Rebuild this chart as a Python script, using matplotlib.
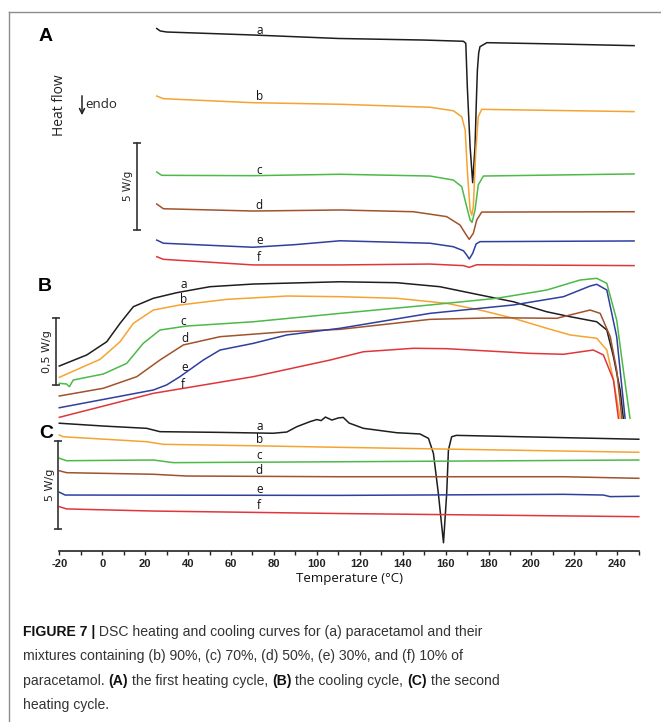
import matplotlib
matplotlib.use("Agg")
import matplotlib.pyplot as plt
from matplotlib.lines import Line2D
from matplotlib import font_manager

plt.rcParams["axes.unicode_minus"] = False

# DSC curves, (temperature degC, heat flow W/g incl. stacking offset)
# (A) first heating
heat1_a = [(25.4, 13.80), (27, 13.66), (30, 13.60), (70, 13.43), (110, 13.23), (150, 13.14),
           (168.3, 13.07), (169.4, 12.95), (170.1, 10.47), (171.4, 7.05), (172.6, 4.99),
           (173.7, 7.05), (174.3, 9.6), (174.8, 11.43), (175.4, 12.4), (176.0, 12.76),
           (179.2, 12.99), (210, 12.92), (247.8, 12.82)]
heat1_b = [(25.4, 9.94), (28.5, 9.79), (70.3, 9.56), (110.8, 9.47), (152.7, 9.30), (163.6, 9.10),
           (167.5, 8.76), (169.1, 8.00), (170.1, 5.71), (171.4, 3.43), (172.2, 3.14), (172.9, 3.62),
           (174.0, 6.67), (175.2, 8.76), (176.8, 9.18), (247.8, 9.05)]
heat1_c = [(25.4, 5.60), (27.7, 5.41), (70.3, 5.39), (110.8, 5.47), (152.7, 5.37), (163.6, 5.14),
           (167.5, 4.76), (169.8, 3.62), (171.4, 2.86), (172.3, 2.72), (173.7, 3.43), (175.2, 4.86),
           (177.6, 5.37), (247.8, 5.49)]
heat1_d = [(25.4, 3.77), (28.5, 3.50), (70.3, 3.37), (110.8, 3.43), (145, 3.33), (160.5, 3.05),
           (166.7, 2.57), (169.1, 2.10), (171.0, 1.75), (172.9, 2.10), (174.5, 2.86), (176.8, 3.31),
           (247.8, 3.33)]
heat1_e = [(25.4, 1.71), (28.5, 1.53), (70.3, 1.30), (90, 1.45), (110.8, 1.67), (152.7, 1.53),
           (163.6, 1.33), (168.3, 1.10), (169.8, 0.86), (171.0, 0.63), (172.6, 0.95), (174.2, 1.49),
           (176.0, 1.62), (247.8, 1.66)]
heat1_f = [(25.4, 0.76), (28.5, 0.61), (70.3, 0.29), (110.8, 0.29), (152.7, 0.34), (168.3, 0.25),
           (171.0, 0.15), (174.5, 0.30), (247.8, 0.25)]

# (B) cooling
cool_a = [(-20, 0.405), (-7.2, 0.488), (2.1, 0.587), (8.3, 0.725), (14.5, 0.850), (23.8, 0.913),
          (34.7, 0.955), (50.2, 1.000), (70.4, 1.020), (110.8, 1.037), (137.2, 1.030), (157.3, 1.000),
          (176.0, 0.938), (191.6, 0.887), (207.1, 0.812), (218.0, 0.775), (230.4, 0.737),
          (235.1, 0.675), (238.2, 0.475), (241.3, 0.225), (242.8, 0.013)]
cool_b = [(-20, 0.320), (-1.0, 0.455), (8.3, 0.587), (14.5, 0.725), (23.8, 0.825), (36.2, 0.863),
          (58.0, 0.905), (86.0, 0.930), (110.8, 0.925), (137.2, 0.913), (160.5, 0.875),
          (176.0, 0.825), (191.6, 0.763), (207.1, 0.688), (218.0, 0.638), (230.4, 0.613),
          (235.1, 0.525), (238.2, 0.300), (241.3, 0.013)]
cool_c = [(-20, 0.275), (-16.6, 0.270), (-15.3, 0.250), (-13.5, 0.300), (0.5, 0.345), (11.4, 0.425),
          (19.1, 0.575), (26.9, 0.675), (39.4, 0.705), (70.4, 0.737), (110.8, 0.800), (152.7, 0.863),
          (183.8, 0.913), (207.1, 0.975), (222.6, 1.050), (230.4, 1.063), (235.1, 1.025),
          (239.7, 0.750), (242.8, 0.375), (245.9, 0.013)]
cool_d = [(-20, 0.180), (0.5, 0.238), (16.1, 0.325), (26.9, 0.450), (37.8, 0.563), (54.9, 0.625),
          (86.0, 0.663), (110.8, 0.680), (152.7, 0.755), (183.8, 0.767), (211.8, 0.763),
          (218.0, 0.788), (227.3, 0.825), (232.0, 0.800), (236.7, 0.625), (239.7, 0.375),
          (242.1, 0.013)]
cool_e = [(-20, 0.092), (23.8, 0.225), (30.0, 0.263), (36.2, 0.325), (47.1, 0.450), (54.9, 0.525),
          (70.4, 0.575), (86.0, 0.638), (110.8, 0.688), (152.7, 0.800), (191.6, 0.863),
          (214.9, 0.925), (227.3, 1.005), (230.4, 1.018), (235.1, 0.975), (239.7, 0.625),
          (243.6, 0.013)]
cool_f = [(-20, 0.020), (23.8, 0.200), (70.4, 0.325), (106.2, 0.450), (121.7, 0.512), (145.0, 0.538),
          (160.5, 0.535), (199.3, 0.500), (214.9, 0.493), (228.8, 0.525), (233.5, 0.488),
          (238.2, 0.300), (240.5, 0.013)]

# (C) second heating
heat2_a = [(-20, 7.26), (0.5, 7.10), (20.7, 6.97), (26.9, 6.78), (54.9, 6.74), (79.7, 6.69),
           (86.0, 6.76), (90.6, 7.06), (96.8, 7.35), (100, 7.47), (102, 7.41), (104, 7.61),
           (107, 7.44), (110, 7.56), (112.3, 7.59), (115, 7.27), (121.7, 6.97), (137.2, 6.72),
           (148, 6.65), (152, 6.40), (154.3, 5.55), (156.6, 3.28), (159.0, 0.47), (160.5, 3.28),
           (161.3, 5.74), (162.8, 6.49), (165, 6.57), (250, 6.35)]
heat2_b = [(-20, 6.59), (-18.1, 6.49), (20.7, 6.21), (28.5, 6.06), (70.4, 5.98), (110.8, 5.89),
           (250, 5.61)]
heat2_c = [(-20, 5.27), (-16.6, 5.13), (23.8, 5.17), (33.1, 5.02), (110, 5.07), (250, 5.17)]
heat2_d = [(-20, 4.56), (-16.6, 4.45), (23.8, 4.36), (39.4, 4.26), (110, 4.22), (214.9, 4.22),
           (250, 4.13)]
heat2_e = [(-20, 3.34), (-17.3, 3.18), (110, 3.16), (214.9, 3.22), (233.5, 3.18), (236.6, 3.09),
           (250, 3.11)]
heat2_f = [(-20, 2.52), (-16.6, 2.39), (23.8, 2.27), (110, 2.13), (250, 1.95)]

sample_keys = ["a", "b", "c", "d", "e", "f"]
sample_colors = ["#1e1e1e", "#f5a431", "#4db948", "#a0532c", "#2e3f9e", "#e0363a"]

# curve letter positions (temperature, heat flow)
labels_A = [(73.2, 13.71), (73.2, 9.94), (73.2, 5.71), (73.2, 3.71), (73.2, 1.71), (73.2, 0.74)]
labels_B = [(37.8, 1.013), (37.8, 0.905), (37.8, 0.737), (38.6, 0.613), (38.6, 0.395), (37.8, 0.263)]
labels_C = [(73.2, 7.10), (73.2, 6.31), (73.2, 5.41), (73.2, 4.55), (73.2, 3.51), (73.2, 2.56)]

W, H = 661, 722
fig = plt.figure(figsize=(W / 100, H / 100), dpi=100)
fig.patch.set_facecolor("white")

lab_font = "Open Sans"


def px_ax(top, bottom):
    # axes rectangle from pixel rows, x spans -20..250 degC
    return [59.3 / W, 1 - bottom / H, 579.5 / W, (bottom - top) / H]


def panel(rect, ylim, curves, labels):
    ax = fig.add_axes(rect)
    ax.patch.set_alpha(0)
    for pts, col in zip(curves, sample_colors):
        T = [p[0] for p in pts]
        hf = [p[1] for p in pts]
        ax.plot(T, hf, color=col, lw=1.1, clip_on=False)
    for (tx, ty), k in zip(labels, sample_keys):
        ax.text(tx, ty, k, ha="center", va="center", fontsize=8.5, family=lab_font, color="#111")
    ax.set_xlim(-20, 250)
    ax.set_ylim(*ylim)
    for s in ax.spines.values():
        s.set_visible(False)
    ax.set_xticks([])
    ax.set_yticks([])
    return ax


def scale_bar(ax, x, y0, y1, text, tx, fs):
    ax.plot([x, x], [y0, y1], color="#333", lw=1.2, clip_on=False,
            marker="_", markersize=6, markeredgewidth=1.2)
    ax.text(tx, (y0 + y1) / 2, text, rotation=90, ha="center", va="center",
            fontsize=fs, color="#222", clip_on=False)


axA = panel(px_ax(20, 270), (0, 250 / 17.5),
            [heat1_a, heat1_b, heat1_c, heat1_d, heat1_e, heat1_f], labels_A)
axB = panel(px_ax(272, 420), (0, 148 / 133.3),
            [cool_a, cool_b, cool_c, cool_d, cool_e, cool_f], labels_B)
axC = panel(px_ax(415, 551), (0, 136 / 17.6),
            [heat2_a, heat2_b, heat2_c, heat2_d, heat2_e, heat2_f], labels_C)

scale_bar(axA, 16.1, 2.29, 7.27, "5 W/g", 12.2, 7.5)
scale_bar(axB, -21.5, 0.263, 0.763, "0,5 W/g", -25.6, 8)
scale_bar(axC, -20.5, 1.27, 6.27, "5 W/g", -24.3, 8)

# x axis on the bottom panel
axC.spines["bottom"].set_visible(True)
axC.spines["bottom"].set_color("#222")
axC.spines["bottom"].set_linewidth(1.2)
axC.set_xticks(range(-20, 251, 20))
axC.set_xticks(range(-10, 251, 20), minor=True)
axC.tick_params(axis="x", which="both", direction="out", length=3, width=1, color="#222", pad=3)
for t in axC.get_xticklabels():
    t.set_fontsize(8)
    t.set_fontweight("bold")
    t.set_family("Liberation Sans")
    t.set_color("#222")
axC.set_xlabel("Temperature (\u00b0C)", fontsize=9.5, family=lab_font, labelpad=2, color="#111")

# panel letters and heat flow note
for letter, (x, y) in zip("ABC", [(46, 36.7), (45, 286.7), (46.7, 433.3)]):
    fig.text(x / W, 1 - y / H, letter, fontsize=14, fontweight="bold", family="Liberation Sans",
             ha="center", va="center")
fig.text(59.3 / W, 1 - 105 / H, "Heat flow", rotation=90, fontsize=10, family=lab_font,
         ha="center", va="center", color="#222")
fig.add_artist(matplotlib.patches.FancyArrowPatch((82 / W, 1 - 93 / H), (82 / W, 1 - 118 / H),
               transform=fig.transFigure, arrowstyle="->", mutation_scale=9, lw=1.1, color="#222"))
fig.text(85 / W, 1 - 105 / H, "endo", fontsize=9.5, family=lab_font, ha="left", va="center",
         color="#222")

# frame
frame_col = "#8c8c8c"
fig.add_artist(Line2D([9.3 / W, 1], [1 - 12.3 / H, 1 - 12.3 / H], color=frame_col, lw=1.0,
                      transform=fig.transFigure))
fig.add_artist(Line2D([9.3 / W, 9.3 / W], [1 - 12.3 / H, 0], color=frame_col, lw=1.0,
                      transform=fig.transFigure))

# caption with bold runs
names = {f.name for f in font_manager.fontManager.ttflist}
if "Liberation Sans Narrow" in names:
    cap_font, cap_size = "Liberation Sans Narrow", 12
else:
    cap_font, cap_size = "Liberation Sans", 10.1

caption = [
    [("FIGURE 7 |", "bold"), (" DSC heating and cooling curves for (a) paracetamol and their", "normal")],
    [("mixtures containing (b) 90%, (c) 70%, (d) 50%, (e) 30%, and (f) 10% of", "normal")],
    [("paracetamol. ", "normal"), ("(A)", "bold"), (" the first heating cycle, ", "normal"),
     ("(B)", "bold"), (" the cooling cycle, ", "normal"), ("(C)", "bold"), (" the second", "normal")],
    [("heating cycle.", "normal")],
]
renderer = fig.canvas.get_renderer()
for i, runs in enumerate(caption):
    x = 22.7
    y = 636 + i * 24.4
    for s, w in runs:
        t = fig.text(x / W, 1 - y / H, s, fontsize=cap_size, fontweight=w, family=cap_font,
                     color="#111" if w == "bold" else "#333", va="baseline", ha="left")
        x += t.get_window_extent(renderer).width

fig.savefig("out.png", dpi=100, facecolor="white")
